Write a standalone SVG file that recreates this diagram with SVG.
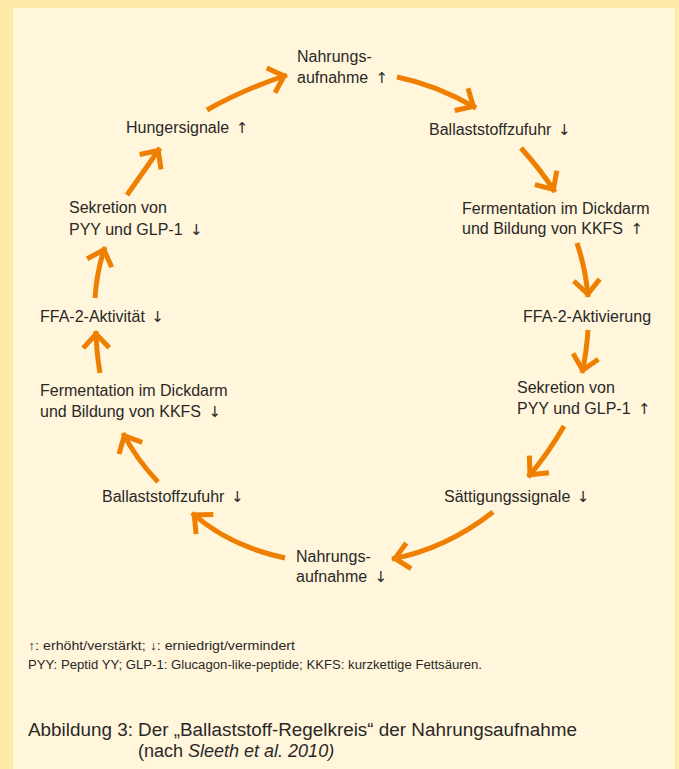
<svg xmlns="http://www.w3.org/2000/svg" width="679" height="769" viewBox="0 0 679 769">
<style>
.lbl{font-family:"Liberation Sans",Arial,sans-serif;font-size:16px;fill:#2a2826}
.ar{font-family:"DejaVu Sans",sans-serif;font-size:15px}
.leg{font-family:"Liberation Sans",Arial,sans-serif;font-size:12.5px;fill:#2a2826}
.cap{font-family:"Liberation Sans",Arial,sans-serif;font-size:18px;fill:#2a2826}
.arr{fill:none;stroke:#EF7F00;stroke-width:5;stroke-linecap:butt;marker-end:url(#chev)}
</style>
<defs>
<marker id="chev" markerUnits="userSpaceOnUse" orient="auto" overflow="visible" refX="0" refY="0" markerWidth="40" markerHeight="40">
<path d="M-17,-13 L-3,0 L-17,13" fill="none" stroke="#EF7F00" stroke-width="5" stroke-linejoin="miter"/>
</marker>
</defs>
<rect x="0" y="0" width="679" height="769" fill="#FFEBA8"/>
<rect x="13" y="8" width="662" height="761" fill="#FFF6DC"/>

<g id="connectors">
<path class="arr" d="M207,110 Q242,90 287,75"/>
<path class="arr" d="M397,77 Q437,85 476,108"/>
<path class="arr" d="M521,148 Q541.6,170.9 555,192"/>
<path class="arr" d="M577,243 Q586,270 588,297"/>
<path class="arr" d="M588,330 Q586.6,352.5 582,373"/>
<path class="arr" d="M564,426 Q547.7,454.4 528,477"/>
<path class="arr" d="M493,512 Q446,548.8 392,559"/>
<path class="arr" d="M285,558 Q229.4,546.2 192,513"/>
<path class="arr" d="M158,482 Q135.5,458.1 123,433"/>
<path class="arr" d="M100,373 Q96.3,351 96,331"/>
<path class="arr" d="M95,298 Q96.8,270.6 105,247"/>
<path class="arr" d="M127,195 Q144,171 160,148"/>
</g>

<g id="n1"><text class="lbl" x="297" y="62">Nahrungs-</text><text class="lbl" x="297" y="83">aufnahme <tspan class="ar" dx="3">↑</tspan></text></g>
<g id="n2"><text class="lbl" x="429" y="135">Ballaststoffzufuhr <tspan class="ar" dx="2">↓</tspan></text></g>
<g id="n3"><text class="lbl" x="462" y="214">Fermentation im Dickdarm</text><text class="lbl" x="462" y="234">und Bildung von KKFS <tspan class="ar" dx="3">↑</tspan></text></g>
<g id="n4"><text class="lbl" x="523" y="322">FFA-2-Aktivierung</text></g>
<g id="n5"><text class="lbl" x="517" y="393">Sekretion von</text><text class="lbl" x="517" y="414">PYY und GLP-1 <tspan class="ar" dx="3">↑</tspan></text></g>
<g id="n6"><text class="lbl" x="444" y="502">Sättigungssignale <tspan class="ar" dx="2">↓</tspan></text></g>
<g id="n7"><text class="lbl" x="296" y="562">Nahrungs-</text><text class="lbl" x="296" y="582">aufnahme <tspan class="ar" dx="3">↓</tspan></text></g>
<g id="n8"><text class="lbl" x="102" y="502">Ballaststoffzufuhr <tspan class="ar" dx="2">↓</tspan></text></g>
<g id="n9"><text class="lbl" x="40" y="396">Fermentation im Dickdarm</text><text class="lbl" x="40" y="417">und Bildung von KKFS <tspan class="ar" dx="3">↓</tspan></text></g>
<g id="n10"><text class="lbl" x="40" y="322">FFA-2-Aktivität <tspan class="ar" dx="2">↓</tspan></text></g>
<g id="n11"><text class="lbl" x="69" y="213">Sekretion von</text><text class="lbl" x="69" y="235">PYY und GLP-1 <tspan class="ar" dx="3">↓</tspan></text></g>
<g id="n12"><text class="lbl" x="126" y="133">Hungersignale <tspan class="ar" dx="2">↑</tspan></text></g>

<g id="legend">
<text class="leg" x="28" y="650" textLength="267" lengthAdjust="spacingAndGlyphs">↑: erhöht/verstärkt; ↓: erniedrigt/vermindert</text>
<text class="leg" x="28" y="669" textLength="454" lengthAdjust="spacingAndGlyphs">PYY: Peptid YY; GLP-1: Glucagon-like-peptide; KKFS: kurzkettige Fettsäuren.</text>
</g>
<g id="caption">
<text class="cap" x="28" y="736" textLength="549" lengthAdjust="spacingAndGlyphs">Abbildung 3: Der „Ballaststoff-Regelkreis“ der Nahrungsaufnahme</text>
<text class="cap" x="138" y="757">(nach <tspan font-style="italic">Sleeth et al. 2010)</tspan></text>
</g>
</svg>
